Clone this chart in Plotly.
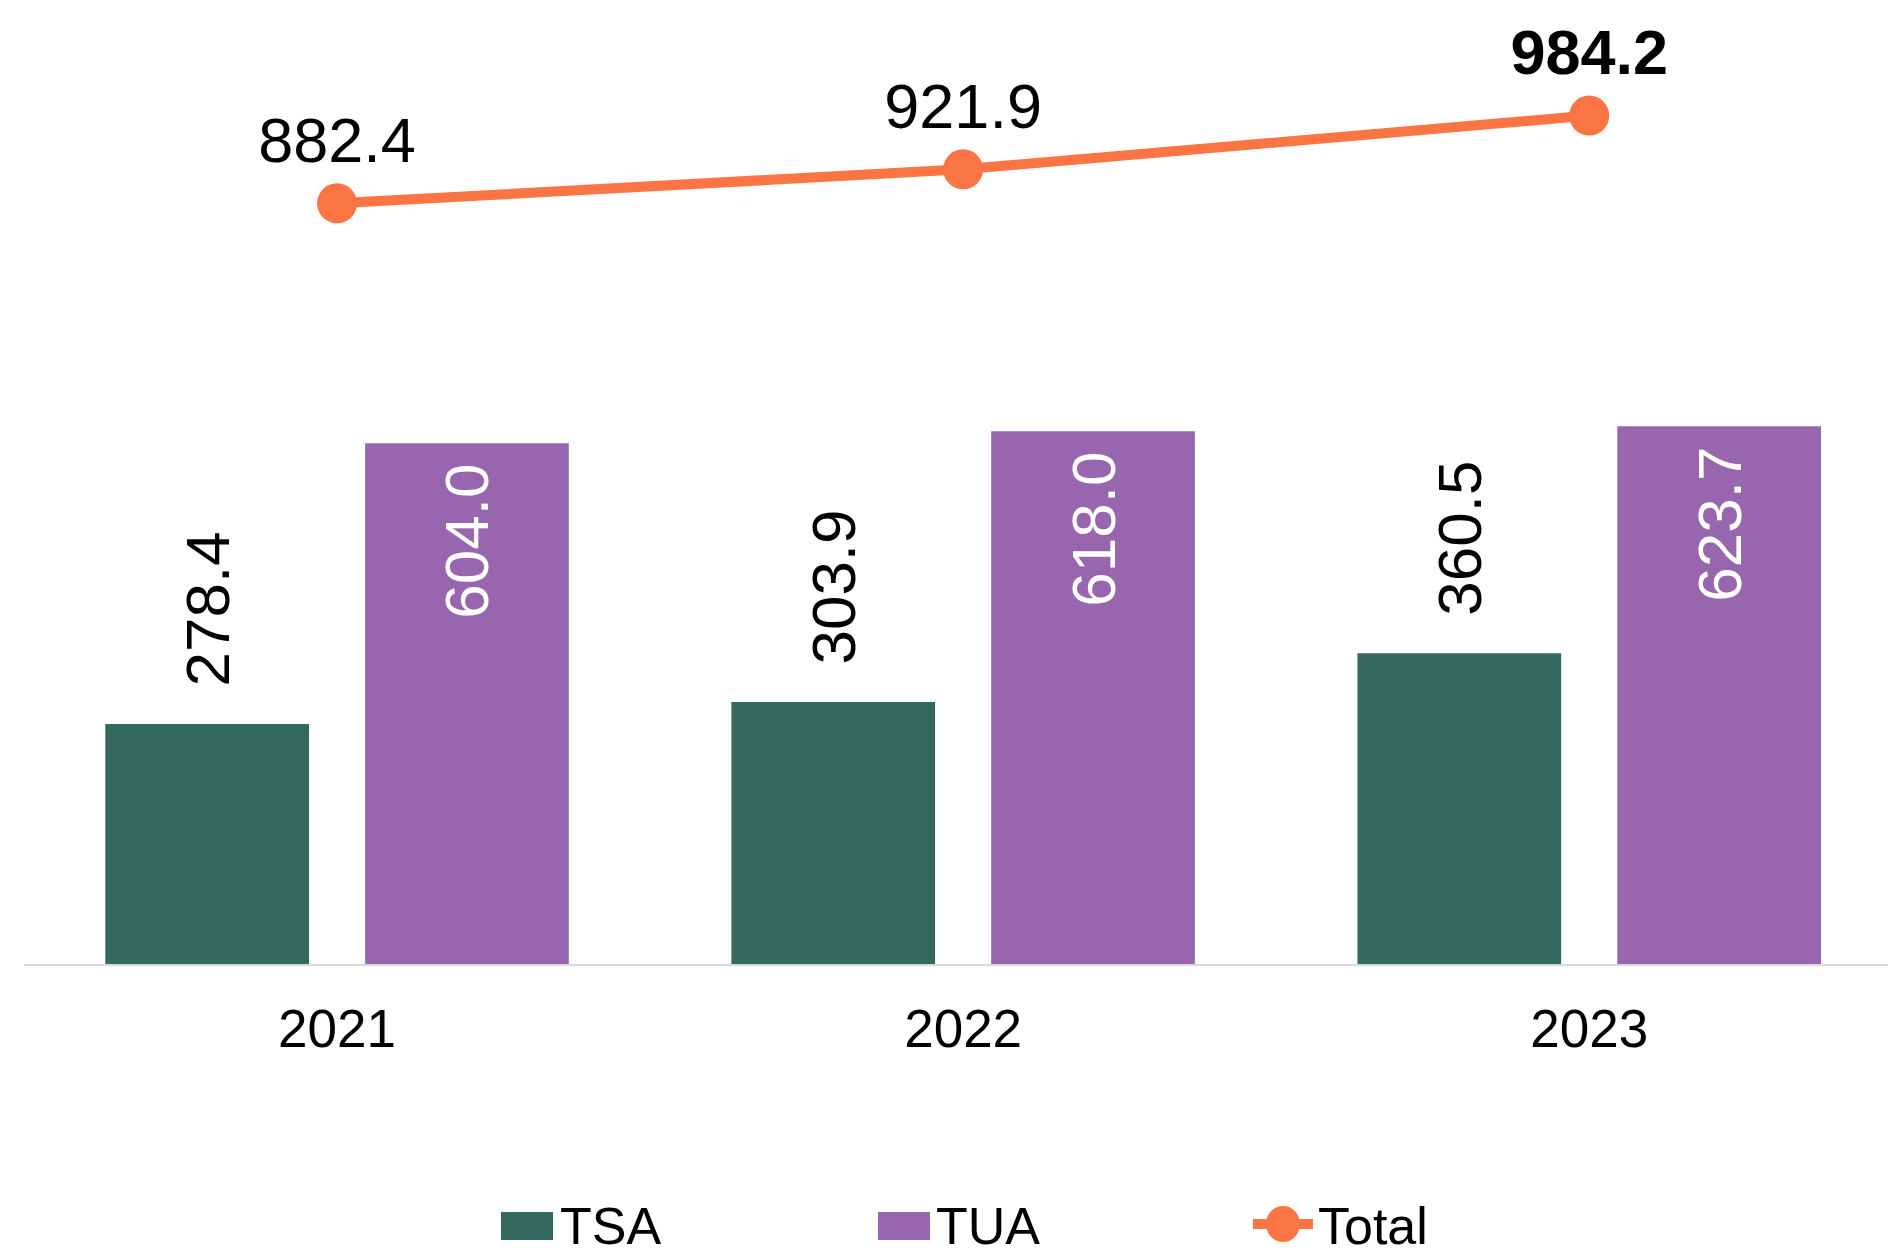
import plotly.graph_objects as go

years = ["2021", "2022", "2023"]
tsa = [278.4, 303.9, 360.5]
tua = [604.0, 618.0, 623.7]
total = [882.4, 921.9, 984.2]
series_names = ["TSA", "TUA", "Total"]

C_TSA = "#346A5D"
C_TUA = "#9866AE"
C_TOT = "#FA7444"
FONT = "Liberation Sans, Arial, sans-serif"

# page has an 8px body margin; figure is sized so it fits the window
OFF = 8
W, H = 1896 - OFF, 1254 - OFF
ML, MR, MT, MB = 24 - OFF, 0, 0, 290
PW, PH = W - ML - MR, H - MT - MB


def px(x):
    # x in window pixels -> paper
    return (x - OFF - ML) / PW


def py(y):
    # y in window pixels -> paper
    return (H - MB - (y - OFF)) / PH


total_text = [f"{v:.1f}" for v in total]
total_text[-1] = f"<b>{total_text[-1]}</b>"

fig = go.Figure()
fig.add_trace(go.Bar(
    x=years, y=tsa, name=series_names[0], marker=dict(color=C_TSA, line=dict(width=0)),
    texttemplate="\u00a0\u00a0%{y:.1f}", textposition="outside", textangle=-90,
    textfont=dict(size=62, color="black", family=FONT), constraintext="none",
    cliponaxis=False, showlegend=False,
))
fig.add_trace(go.Bar(
    x=years, y=tua, name=series_names[1], marker=dict(color=C_TUA, line=dict(width=0)),
    texttemplate="%{y:.1f}\u00a0", textposition="inside", insidetextanchor="end", textangle=-90,
    insidetextfont=dict(size=62, color="white", family=FONT), constraintext="none",
    showlegend=False,
))
fig.add_trace(go.Scatter(
    x=years, y=total, name=series_names[2], mode="lines+markers+text",
    line=dict(color=C_TOT, width=10), marker=dict(color=C_TOT, size=40),
    text=total_text, textposition="top center",
    textfont=dict(size=63, color="black", family=FONT),
    cliponaxis=False, showlegend=False,
))

shapes = []
annotations = []
# custom legend
shapes.append(dict(type="rect", xref="paper", yref="paper", x0=px(501), x1=px(553), y0=py(1240), y1=py(1212),
                   fillcolor=C_TSA, line=dict(width=0)))
shapes.append(dict(type="rect", xref="paper", yref="paper", x0=px(878), x1=px(930), y0=py(1240), y1=py(1212),
                   fillcolor=C_TUA, line=dict(width=0)))
shapes.append(dict(type="line", xref="paper", yref="paper", x0=px(1253), x1=px(1313), y0=py(1224), y1=py(1224),
                   line=dict(color=C_TOT, width=10)))
shapes.append(dict(type="circle", xref="paper", yref="paper", x0=px(1266), x1=px(1300), y0=py(1242), y1=py(1206),
                   fillcolor=C_TOT, line=dict(width=0)))
for name, x in zip(series_names, [558, 934, 1316]):
    annotations.append(dict(text=name, xref="paper", yref="paper", x=px(x), y=py(1226),
                            xanchor="left", yanchor="middle", showarrow=False,
                            font=dict(size=52, color="black", family=FONT)))

fig.update_layout(
    width=W, height=H, margin=dict(l=ML, r=MR, t=MT, b=MB),
    paper_bgcolor="white", plot_bgcolor="white",
    barmode="group", bargap=0.17, bargroupgap=0.216,
    showlegend=False, shapes=shapes, annotations=annotations,
    font=dict(family=FONT, color="black"),
    xaxis=dict(showline=True, linecolor="#D9D9D9", linewidth=2, showgrid=False, ticks="",
               range=[-0.5, 2.49],
               tickfont=dict(size=53, color="black", family=FONT), ticklabelstandoff=17),
    yaxis=dict(range=[0, 1109], visible=False, showgrid=False, zeroline=False),
)
fig.write_html("out.html")
